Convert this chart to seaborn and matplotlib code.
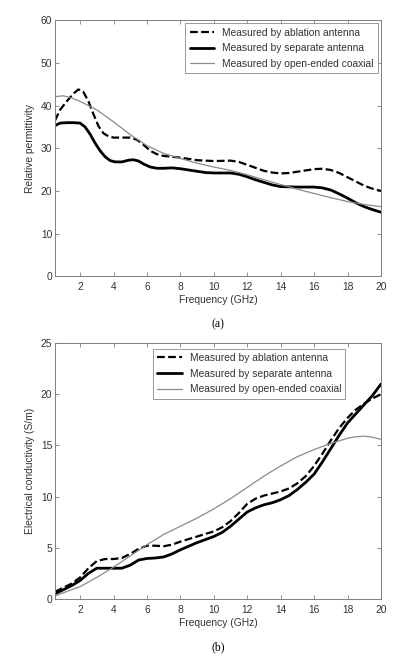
import matplotlib
matplotlib.use('Agg')
import matplotlib.pyplot as plt
import numpy as np
import pandas as pd
import seaborn as sns

# (a) relative permittivity
freq_abl_a = [0.5, 0.8, 1.2, 1.6, 1.9, 2.2, 2.5, 2.8, 3.1, 3.4, 3.7, 4.0, 4.5, 5.0, 5.4, 5.8, 6.2, 6.6,
              7.0, 7.5, 8.0, 9.0, 10.0, 11.0, 11.5, 12.0, 12.5, 13.0, 13.5, 14.0, 14.5, 15.0, 15.5, 16.0,
              16.5, 17.0, 17.5, 18.0, 18.5, 19.0, 19.5, 20.0]
perm_abl = [36.5, 39.0, 41.0, 42.8, 43.8, 43.2, 41.0, 38.0, 35.2, 33.5, 32.8, 32.5, 32.5, 32.5, 32.0, 30.8,
            29.4, 28.6, 28.2, 28.0, 27.8, 27.2, 27.0, 27.1, 26.8, 26.1, 25.4, 24.7, 24.3, 24.1, 24.2, 24.5,
            24.8, 25.1, 25.2, 24.9, 24.2, 23.2, 22.2, 21.2, 20.5, 20.0]

freq_sep_a = [0.5, 0.8, 1.2, 1.6, 2.0, 2.3, 2.6, 2.9, 3.2, 3.5, 3.8, 4.1, 4.5, 4.9, 5.2, 5.5, 5.8, 6.2, 6.6,
              7.0, 7.5, 8.0, 8.5, 9.0, 9.5, 10.0, 11.0, 11.5, 12.0, 12.5, 13.0, 13.5, 14.0, 15.0, 16.0,
              16.5, 17.0, 17.5, 18.0, 18.5, 19.0, 19.5, 20.0]
perm_sep = [35.3, 35.9, 36.0, 36.0, 35.9, 35.0, 33.3, 31.2, 29.4, 28.0, 27.1, 26.8, 26.8, 27.2, 27.3, 27.0,
            26.3, 25.6, 25.3, 25.3, 25.4, 25.2, 24.9, 24.6, 24.3, 24.2, 24.2, 23.9, 23.3, 22.6, 22.0,
            21.4, 21.0, 20.9, 20.9, 20.7, 20.2, 19.3, 18.3, 17.2, 16.3, 15.6, 15.0]

freq_coax_a = [0.5, 1.0, 1.5, 2.0, 3.0, 4.0, 5.0, 6.0, 7.0, 8.0, 9.0, 10.0, 11.0, 12.0, 13.0, 14.0, 15.0,
               16.0, 17.0, 18.0, 19.0, 20.0]
perm_coax = [42.1, 42.3, 41.8, 41.0, 39.0, 36.2, 33.2, 30.6, 28.8, 27.6, 26.5, 25.6, 24.8, 23.8, 22.6,
             21.5, 20.4, 19.4, 18.4, 17.5, 16.8, 16.3]

# (b) electrical conductivity (S/m)
freq_abl_b = [0.5, 1.0, 1.5, 2.0, 2.5, 3.0, 3.5, 4.0, 4.5, 5.0, 5.5, 6.0, 6.5, 7.0, 7.5, 8.0, 9.0, 10.0,
              10.5, 11.0, 11.5, 12.0, 12.5, 13.0, 13.5, 14.0, 14.5, 15.0, 15.5, 16.0, 16.5, 17.0, 17.5,
              18.0, 18.5, 19.0, 19.5, 20.0]
cond_abl = [0.7, 1.1, 1.5, 2.1, 3.0, 3.7, 3.9, 3.9, 4.0, 4.4, 4.9, 5.2, 5.2, 5.15, 5.3, 5.6, 6.1, 6.6,
            7.0, 7.6, 8.4, 9.3, 9.8, 10.1, 10.3, 10.5, 10.8, 11.3, 12.0, 13.0, 14.2, 15.5, 16.7, 17.7,
            18.5, 19.1, 19.6, 20.0]

freq_sep_b = [0.5, 1.0, 1.5, 2.0, 2.5, 3.0, 3.5, 4.0, 4.5, 5.0, 5.5, 6.0, 6.5, 7.0, 7.5, 8.0, 9.0, 10.0,
              10.5, 11.0, 11.5, 12.0, 12.5, 13.0, 13.5, 14.0, 14.5, 15.0, 15.5, 16.0, 16.5, 17.0, 17.5,
              18.0, 18.5, 19.0, 19.5, 20.0]
cond_sep = [0.5, 0.9, 1.3, 1.8, 2.5, 3.0, 3.0, 3.0, 3.0, 3.3, 3.8, 3.95, 4.0, 4.1, 4.4, 4.8, 5.5, 6.1,
            6.5, 7.1, 7.8, 8.5, 8.9, 9.2, 9.4, 9.7, 10.1, 10.7, 11.4, 12.2, 13.4, 14.7, 16.0, 17.2,
            18.1, 19.0, 19.9, 21.0]

freq_coax_b = [0.5, 1.0, 2.0, 3.0, 4.0, 5.0, 6.0, 7.0, 8.0, 9.0, 10.0, 11.0, 12.0, 13.0, 14.0, 15.0,
               16.0, 17.0, 18.0, 18.5, 19.0, 19.5, 20.0]
cond_coax = [0.3, 0.6, 1.2, 2.1, 3.1, 4.2, 5.3, 6.3, 7.1, 7.9, 8.8, 9.8, 10.9, 12.0, 13.0, 13.9, 14.6,
             15.2, 15.7, 15.85, 15.9, 15.8, 15.6]

labels = ['Measured by ablation antenna', 'Measured by separate antenna', 'Measured by open-ended coaxial']
xticks = [2, 4, 6, 8, 10, 12, 14, 16, 18, 20]

sns.set_style('ticks')
plt.rcParams['font.family'] = ['Liberation Sans', 'DejaVu Sans']
fs = 7.4
text_col = '#333333'
spine_col = '#7f7f7f'

fig = plt.figure(figsize=(4.0, 6.56), dpi=100)
ax_a = fig.add_axes([0.1375, 0.579, 0.815, 0.390])
ax_b = fig.add_axes([0.1375, 0.087, 0.815, 0.390])


def draw_panel(ax, series, ylim, yticks, ylabel, tag, leg_anchor, leg_loc):
    styles = [dict(color='black', linestyle=(0, (3.5, 1.5)), linewidth=1.6),
              dict(color='black', linestyle='-', linewidth=2.0),
              dict(color='#8a8a8a', linestyle='-', linewidth=0.9)]
    for (x, y), lab, st in zip(series, labels, styles):
        sns.lineplot(x=x, y=y, ax=ax, label=lab, **st)
    ax.set_xlim(0.5, 20)
    ax.set_ylim(*ylim)
    ax.set_xticks(xticks)
    ax.set_yticks(yticks)
    ax.tick_params(direction='in', top=True, right=True, length=3, width=0.6,
                   colors=spine_col, labelcolor=text_col, labelsize=fs)
    ax.tick_params(axis='x', pad=4.5)
    ax.tick_params(axis='y', pad=2)
    for sp in ax.spines.values():
        sp.set_visible(True)
        sp.set_color(spine_col)
        sp.set_linewidth(0.7)
    ax.set_xlabel('Frequency (GHz)', color=text_col, fontsize=fs, labelpad=2)
    ax.set_ylabel(ylabel, color=text_col, fontsize=fs, labelpad=4)
    leg = ax.legend(loc=leg_loc, bbox_to_anchor=leg_anchor, frameon=True, fancybox=False,
                    fontsize=fs, handlelength=2.4, borderaxespad=0, labelspacing=0.55)
    leg.get_frame().set_edgecolor(spine_col)
    leg.get_frame().set_linewidth(0.7)
    for t in leg.get_texts():
        t.set_color(text_col)
    ax.text(0.5, -0.165, tag, transform=ax.transAxes, ha='center', va='top',
            fontsize=8.5, family=['Liberation Serif', 'DejaVu Serif'], color='black')


draw_panel(ax_a, [(freq_abl_a, perm_abl), (freq_sep_a, perm_sep), (freq_coax_a, perm_coax)],
           (0, 60), [0, 10, 20, 30, 40, 50, 60], 'Relative permittivity', '(a)',
           (0.991, 0.988), 'upper right')
draw_panel(ax_b, [(freq_abl_b, cond_abl), (freq_sep_b, cond_sep), (freq_coax_b, cond_coax)],
           (0, 25), [0, 5, 10, 15, 20, 25], 'Electrical conductivity (S/m)', '(b)',
           (0.30, 0.977), 'upper left')

fig.savefig('out.png', dpi=100)
